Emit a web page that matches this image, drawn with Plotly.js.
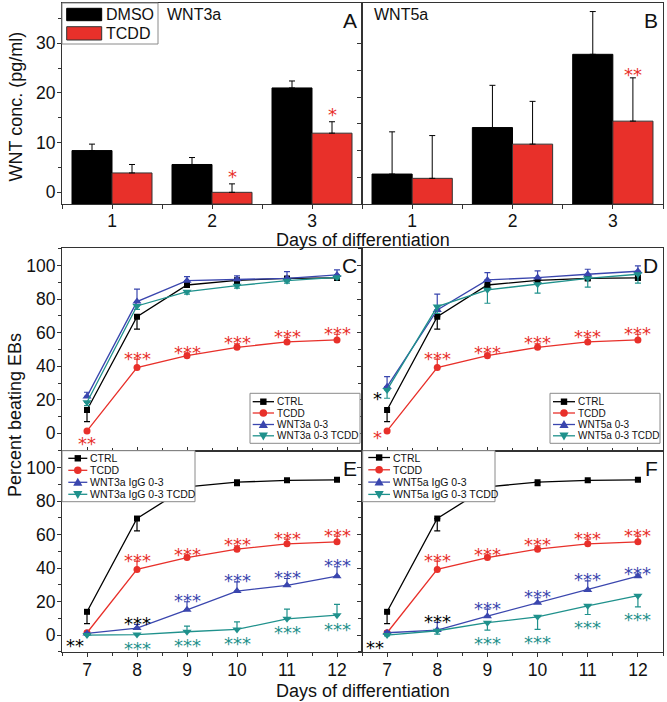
<!DOCTYPE html>
<html><head><meta charset="utf-8">
<script src="https://cdn.plot.ly/plotly-3.0.1.min.js"></script>
<style>html,body{margin:0;padding:0;background:#fff}</style>
</head><body><div id="chart" style="width:667px;height:702px"></div>
<script>
// ---------------- data ----------------
const barDays = [1, 2, 3];
const wnt3aDMSO = [8.4, 5.6, 21.0];
const wnt3aDMSOErr = [1.3, 1.4, 1.4];
const wnt3aTCDD = [3.9, 0.0, 11.9];
const wnt3aTCDDErr = [1.7, 1.7, 2.3];
const wnt5aDMSO = [5.6, 14.3, 28.0];
const wnt5aDMSOErr = [7.9, 7.9, 8.0];
const wnt5aTCDD = [4.8, 11.2, 15.5];
const wnt5aTCDDErr = [8.0, 8.0, 8.1];
const starsA = ['', '*', '*'];
const starsB = ['', '', '**'];

const days = [7, 8, 9, 10, 11, 12];
const ctrl = [13.9, 69.6, 88.5, 91.3, 92.4, 92.7];
const ctrlErrMinus = [7.0, 7.4, 1.5, 2.0, 1.0, 1.0];
const tcdd = [1.4, 39.2, 46.3, 51.3, 54.5, 55.7];
const tcddErrPlus = [0.8, 5.0, 1.5, 2.0, 2.8, 3.4];

const wnt3a03 = [22.0, 78.6, 91.1, 91.9, 92.5, 94.5];
const wnt3a03ErrPlus = [2.5, 7.4, 2.4, 2.0, 4.0, 3.0];
const wnt3a03TCDD = [18.5, 76.0, 84.5, 88.1, 91.1, 93.1];
const wnt3a03TCDDErrMinus = [2.0, 2.0, 1.5, 1.5, 1.5, 1.0];

const wnt5a03 = [27.8, 73.6, 91.5, 92.9, 94.9, 96.7];
const wnt5a03ErrPlus = [6.0, 9.4, 4.4, 4.0, 3.0, 3.2];
const wnt5a03TCDD = [25.9, 75.6, 85.6, 89.0, 92.5, 94.9];
const wnt5a03TCDDErrMinus = [5.0, 4.0, 8.0, 5.4, 5.3, 5.3];

const wnt3aIgG = [1.0, 4.2, 15.1, 26.3, 29.7, 35.2];
const wnt3aIgGErrPlus = [0.5, 2.2, 4.8, 5.5, 4.1, 5.6];
const wnt3aIgGTCDD = [0.0, 0.3, 2.0, 3.4, 9.7, 11.9];
const wnt3aIgGTCDDErrPlus = [0.5, 0.5, 3.4, 4.5, 5.8, 6.4];

const wnt5aIgG = [1.4, 3.0, 11.3, 19.3, 26.9, 35.2];
const wnt5aIgGErrPlus = [0.8, 4.6, 4.2, 3.0, 5.5, 1.2];
const wnt5aIgGTCDD = [0.0, 2.6, 7.4, 10.9, 17.5, 23.5];
const wnt5aIgGTCDDErrMinus = [0.5, 2.0, 4.4, 7.5, 5.2, 6.6];

const starsTCDD_C = ['**', '***', '***', '***', '***', '***'];
const starsTCDD_D = ['*', '***', '***', '***', '***', '***'];
const starsCtrl_D = ['*', '', '', '', '', ''];
const starsTCDD_EF = ['', '***', '***', '***', '***', '***'];
const starsBlack_EF = ['**', '***', '', '', '', ''];
const starsBlue_EF = ['', '', '***', '***', '***', '***'];
const starsTeal_E = ['', '***', '***', '***', '***', '***'];
const starsTeal_F = ['', '', '***', '***', '***', '***'];

// ---------------- style ----------------
const FONT = 'Liberation Sans, Arial, sans-serif';
const STARFONT = 'DejaVu Sans, sans-serif';
const BLACK = '#000000', RED = '#e8302a', BLUE = '#3a46ae', TEAL = '#1f918c';
const zeros = days.map(() => 0);
const zeros3 = barDays.map(() => 0);

const ML = 62, MR = 4, MT = 3, MB = 50, W = 667, H = 702;
const PL = ML, PR = W - MR, PT = MT, PB = H - MB;
const fx = px => (px - PL) / (PR - PL);
const fy = py => (PB - py) / (PB - PT);

const colL = [0, fx(362)], colR = [fx(362), 1];
const rowA = [fy(204), 1], rowC = [fy(450.7), fy(248.3)], rowE = [0, fy(450.7)];

const A_MIN = -2.35, A_MAX = 38.09;   // panel A value axis limits (bars rise from the axis floor)

const traces = [];
const shapes = [];
const annotations = [];

// bars
function barErr(arr) {
  return {type: 'data', symmetric: false, array: arr, arrayminus: zeros3, color: '#000', thickness: 1, width: 3};
}
function barTrace(ax, name, vals, err, color, lineColor, floor) {
  return {type: 'bar', x: barDays, y: vals.map(v => v - floor), base: floor, name: name,
    xaxis: 'x' + ax, yaxis: 'y' + ax,
    customdata: vals,
    marker: {color: color, line: {color: lineColor, width: 1}}, error_y: barErr(err)};
}
traces.push(barTrace('', 'DMSO', wnt3aDMSO, wnt3aDMSOErr, BLACK, '#000', A_MIN));
traces.push(barTrace('', 'TCDD', wnt3aTCDD, wnt3aTCDDErr, RED, '#333', A_MIN));
traces.push(barTrace('2', 'DMSO', wnt5aDMSO, wnt5aDMSOErr, BLACK, '#000', 0));
traces.push(barTrace('2', 'TCDD', wnt5aTCDD, wnt5aTCDDErr, RED, '#333', 0));

// lines
function lineTrace(ax, name, y, errP, errM, color, symbol, size) {
  return {type: 'scatter', mode: 'lines+markers', x: days, y: y, name: name,
    xaxis: 'x' + ax, yaxis: 'y' + ax,
    line: {color: color, width: 1.3},
    marker: {color: color, symbol: symbol, size: size},
    error_y: {type: 'data', symmetric: false, array: errP, arrayminus: errM, color: color, thickness: 1.2, width: 3}};
}
const panels = [
  {ax: '3', blue: wnt3a03, blueP: wnt3a03ErrPlus, blueM: zeros, teal: wnt3a03TCDD, tealP: zeros, tealM: wnt3a03TCDDErrMinus,
   names: ['CTRL', 'TCDD', 'WNT3a 0-3', 'WNT3a 0-3 TCDD']},
  {ax: '4', blue: wnt5a03, blueP: wnt5a03ErrPlus, blueM: zeros, teal: wnt5a03TCDD, tealP: zeros, tealM: wnt5a03TCDDErrMinus,
   names: ['CTRL', 'TCDD', 'WNT5a 0-3', 'WNT5a 0-3 TCDD']},
  {ax: '5', blue: wnt3aIgG, blueP: wnt3aIgGErrPlus, blueM: zeros, teal: wnt3aIgGTCDD, tealP: wnt3aIgGTCDDErrPlus, tealM: zeros,
   names: ['CTRL', 'TCDD', 'WNT3a IgG 0-3', 'WNT3a IgG 0-3 TCDD']},
  {ax: '6', blue: wnt5aIgG, blueP: wnt5aIgGErrPlus, blueM: zeros, teal: wnt5aIgGTCDD, tealP: zeros, tealM: wnt5aIgGTCDDErrMinus,
   names: ['CTRL', 'TCDD', 'WNT5a IgG 0-3', 'WNT5a IgG 0-3 TCDD']}
];
panels.forEach(p => {
  traces.push(lineTrace(p.ax, p.names[0], ctrl, zeros, ctrlErrMinus, BLACK, 'square', 6));
  traces.push(lineTrace(p.ax, p.names[1], tcdd, tcddErrPlus, zeros, RED, 'circle', 7));
  traces.push(lineTrace(p.ax, p.names[2], p.blue, p.blueP, p.blueM, BLUE, 'triangle-up', 8));
  traces.push(lineTrace(p.ax, p.names[3], p.teal, p.tealP, p.tealM, TEAL, 'triangle-down', 8));
});

// ---------------- stars ----------------
function star(ax, x, y, text, color, opts) {
  const axs = ax === '1' ? '' : ax;
  annotations.push(Object.assign({xref: 'x' + axs, yref: 'y' + axs, x: x, y: y, text: text, showarrow: false,
    borderpad: 0,
    font: {family: STARFONT, size: 18, color: color}, xanchor: 'center', yanchor: 'middle', yshift: 0}, opts || {}));
}
function starsAbove(ax, xs, texts, vals, errP, color, dy) {
  texts.forEach((t, i) => { if (t) star(ax, xs[i], vals[i] + errP[i], t, color, {yshift: dy}); });
}
function starsBelow(ax, xs, texts, vals, errM, color, dy) {
  texts.forEach((t, i) => { if (t) star(ax, xs[i], vals[i] - errM[i], t, color, {yshift: dy}); });
}
const barRight = barDays.map(d => d + 0.2);
starsAbove('1', barRight, starsA, wnt3aTCDD, wnt3aTCDDErr, RED, 7);
starsAbove('2', barRight, starsB, wnt5aTCDD, wnt5aTCDDErr, RED, 3);

// C
starsBelow('3', days, starsTCDD_C.map((t, i) => i === 0 ? t : ''), tcdd, zeros, RED, -13);
starsAbove('3', days, starsTCDD_C.map((t, i) => i === 0 ? '' : t), tcdd, tcddErrPlus, RED, 1);
// D
starsAbove('4', days, starsTCDD_D.map((t, i) => i === 0 ? '' : t), tcdd, tcddErrPlus, RED, 1);
star('4', days[0], tcdd[0], starsTCDD_D[0], RED, {xanchor: 'right', xshift: -4, yshift: -7});
star('4', days[0], wnt5a03TCDD[0], starsCtrl_D[0], BLACK, {xanchor: 'right', xshift: -4, yshift: -9});
// E
starsAbove('5', days, starsTCDD_EF, tcdd, tcddErrPlus, RED, 1);
star('5', days[0], wnt3aIgGTCDD[0], starsBlack_EF[0], BLACK, {xanchor: 'right', xshift: -2, yshift: -10});
starsAbove('5', days, starsBlack_EF.map((t, i) => i === 0 ? '' : t), wnt3aIgG, wnt3aIgGErrPlus, BLACK, 1);
starsAbove('5', days, starsBlue_EF, wnt3aIgG, wnt3aIgGErrPlus, BLUE, 1);
starsBelow('5', days, starsTeal_E, wnt3aIgGTCDD, zeros, TEAL, -14);
// F
starsAbove('6', days, starsTCDD_EF, tcdd, tcddErrPlus, RED, 1);
star('6', days[0], wnt5aIgGTCDD[0], starsBlack_EF[0], BLACK, {xanchor: 'right', xshift: -2, yshift: -12});
starsAbove('6', days, starsBlack_EF.map((t, i) => i === 0 ? '' : t), wnt5aIgG, wnt5aIgGErrPlus, BLACK, 1);
starsAbove('6', days, starsBlue_EF, wnt5aIgG, wnt5aIgGErrPlus, BLUE, 1);
starsBelow('6', days, starsTeal_F, wnt5aIgGTCDD, wnt5aIgGTCDDErrMinus, TEAL, -13);

// ---------------- hand-made legends ----------------
function P(x, y) { return fx(x) + ',' + fy(y); }
function box(x0, y0, x1, y1) {
  shapes.push({type: 'rect', xref: 'paper', yref: 'paper', x0: fx(x0), x1: fx(x1), y0: fy(y1), y1: fy(y0),
    line: {color: '#8a8a8a', width: 1}, fillcolor: '#ffffff', layer: 'above'});
}
function label(x, y, text, size) {
  annotations.push({xref: 'paper', yref: 'paper', x: fx(x), y: fy(y), xanchor: 'left', yanchor: 'middle',
    text: text, showarrow: false, font: {family: FONT, size: size, color: '#111'}});
}
function row(lx0, lx1, y, sym, color, text, size) {
  shapes.push({type: 'line', xref: 'paper', yref: 'paper', x0: fx(lx0), x1: fx(lx1), y0: fy(y), y1: fy(y),
    line: {color: color, width: 1.3}, layer: 'above'});
  const c = (lx0 + lx1) / 2;
  let path;
  if (sym === 'square') path = `M${P(c - 3.2, y - 3.2)}L${P(c + 3.2, y - 3.2)}L${P(c + 3.2, y + 3.2)}L${P(c - 3.2, y + 3.2)}Z`;
  if (sym === 'up') path = `M${P(c - 4.6, y + 3.4)}L${P(c + 4.6, y + 3.4)}L${P(c, y - 4.6)}Z`;
  if (sym === 'down') path = `M${P(c - 4.6, y - 3.4)}L${P(c + 4.6, y - 3.4)}L${P(c, y + 4.6)}Z`;
  if (sym === 'circle') {
    shapes.push({type: 'circle', xref: 'paper', yref: 'paper', x0: fx(c - 3.8), x1: fx(c + 3.8), y0: fy(y + 3.8), y1: fy(y - 3.8),
      line: {width: 0}, fillcolor: color, layer: 'above'});
  } else {
    shapes.push({type: 'path', xref: 'paper', yref: 'paper', path: path, line: {width: 0}, fillcolor: color, layer: 'above'});
  }
  label(lx1 + 1, y, text, size);
}
function lineLegend(x0, y0, x1, y1, lx0, lx1, ys, names, size) {
  box(x0, y0, x1, y1);
  const syms = ['square', 'circle', 'up', 'down'];
  const cols = [BLACK, RED, BLUE, TEAL];
  names.forEach((n, i) => row(lx0, lx1, ys[i], syms[i], cols[i], n, size));
}
// A legend
box(62, 3, 158, 44);
shapes.push({type: 'rect', xref: 'paper', yref: 'paper', x0: fx(66.7), x1: fx(101.7), y0: fy(20.7), y1: fy(8.3),
  line: {color: '#000', width: 1}, fillcolor: BLACK, layer: 'above'});
shapes.push({type: 'rect', xref: 'paper', yref: 'paper', x0: fx(66.7), x1: fx(101.7), y0: fy(40), y1: fy(26.7),
  line: {color: '#333', width: 1}, fillcolor: RED, layer: 'above'});
label(104, 14.5, 'DMSO', 16);
label(104, 33.3, 'TCDD', 16);

lineLegend(250, 393.3, 360, 443.3, 252.7, 274, [401.7, 413, 424.5, 435.8], panels[0].names, 10);
lineLegend(550, 393.3, 660, 443.3, 553, 575, [401.7, 413, 424.5, 435.8], panels[1].names, 10);
lineLegend(62, 450.7, 195, 501.7, 68.3, 87.3, [458.3, 470.3, 482.3, 494.3], panels[2].names, 10.5);
lineLegend(362.7, 450.7, 495, 501.7, 368.3, 390, [457.5, 469.8, 482.1, 494.4], panels[3].names, 10.5);

// ---------------- titles / labels ----------------
function txt(x, y, text, size, opts) {
  annotations.push(Object.assign({xref: 'paper', yref: 'paper', x: x, y: y, text: text, showarrow: false,
    font: {family: FONT, size: size, color: '#111'}, xanchor: 'center', yanchor: 'middle'}, opts || {}));
}
txt(0.5, fy(240), 'Days of differentiation', 18);
txt(0.5, fy(691), 'Days of differentiation', 18);
txt(fx(16), fy(106.5), 'WNT conc. (pg/ml)', 18, {textangle: -90});
txt(fx(15), fy(415), 'Percent beating EBs', 18, {textangle: -90});
txt(fx(165), fy(14.5), 'WNT3a', 16, {xanchor: 'left'});
txt(fx(372), fy(14.2), 'WNT5a', 16, {xanchor: 'left'});
const letters = [['A', ''], ['B', '2'], ['C', '3'], ['D', '4'], ['E', '5'], ['F', '6']];
letters.forEach(([L, a]) => {
  annotations.push({xref: 'x' + a + ' domain', yref: 'y' + a + ' domain', x: 1, y: 1, xanchor: 'right', yanchor: 'top',
    xshift: -3, yshift: -4, text: L, showarrow: false, font: {family: FONT, size: 21, color: '#111'}});
});

// ---------------- axes ----------------
const base = {showline: true, linecolor: '#333', linewidth: 1, mirror: true, zeroline: false, showgrid: false,
  ticks: 'outside', tickcolor: '#333', ticklen: 4, tickwidth: 1, ticklabelstandoff: -2,
  tickfont: {family: FONT, size: 17.5, color: '#111'}};
function ax(extra) { return Object.assign({}, base, extra); }
const barX = {range: [0.5, 3.5], tickvals: barDays, ticktext: barDays.map(String),
  minor: {tickvals: [0.5, 1.5, 2.5, 3.5], ticks: 'outside', ticklen: 4, tickcolor: '#333'}};
const dayXMinor = {dtick: 0.5, tick0: 6.5, ticklen: 3, tickcolor: '#333'};
const pctMinor = {dtick: 10, tick0: 0, ticklen: 3, tickcolor: '#333', ticks: 'outside'};

const layout = {
  width: W, height: H, margin: {l: ML, r: MR, t: MT, b: MB},
  paper_bgcolor: '#fff', plot_bgcolor: '#fff', showlegend: false,
  barmode: 'group', bargap: 0.2, bargroupgap: 0,
  font: {family: FONT, color: '#111'},
  xaxis: ax(Object.assign({domain: colL, anchor: 'y', ticklabelstandoff: -3}, barX)),
  yaxis: ax({domain: rowA, anchor: 'x', range: [A_MIN, A_MAX], dtick: 10, tick0: 0,
    minor: {dtick: 5, tick0: 0, ticklen: 3, ticks: 'outside', tickcolor: '#333'}}),
  xaxis2: ax(Object.assign({domain: colR, anchor: 'y2', ticklabelstandoff: -3}, barX)),
  yaxis2: ax({domain: rowA, anchor: 'x2', range: [0, 37.6], tickvals: [5, 10, 15, 20, 25, 30], showticklabels: false}),
  xaxis3: ax({domain: colL, anchor: 'y3', range: [6.5, 12.5], dtick: 1, tick0: 7, ticks: 'inside', showticklabels: false,
    minor: Object.assign({ticks: 'inside'}, dayXMinor)}),
  yaxis3: ax({domain: rowC, anchor: 'x3', range: [-10.4, 110.4], dtick: 20, tick0: 0, minor: pctMinor}),
  xaxis4: ax({domain: colR, anchor: 'y4', range: [6.5, 12.5], dtick: 1, tick0: 7, ticks: 'inside', showticklabels: false,
    minor: Object.assign({ticks: 'inside'}, dayXMinor)}),
  yaxis4: ax({domain: rowC, anchor: 'x4', range: [-10.4, 110.4], dtick: 20, tick0: 0, showticklabels: false, minor: pctMinor}),
  xaxis5: ax({domain: colL, anchor: 'y5', range: [6.5, 12.5], dtick: 1, tick0: 7,
    minor: Object.assign({ticks: 'outside'}, dayXMinor)}),
  yaxis5: ax({domain: rowE, anchor: 'x5', range: [-10.1, 110.1], dtick: 20, tick0: 0, minor: pctMinor}),
  xaxis6: ax({domain: colR, anchor: 'y6', range: [6.5, 12.5], dtick: 1, tick0: 7,
    minor: Object.assign({ticks: 'outside'}, dayXMinor)}),
  yaxis6: ax({domain: rowE, anchor: 'x6', range: [-10.1, 110.1], dtick: 20, tick0: 0, showticklabels: false, minor: pctMinor}),
  shapes: shapes,
  annotations: annotations
};

Plotly.newPlot('chart', traces, layout, {displayModeBar: false, staticPlot: true});
</script>
</body></html>
